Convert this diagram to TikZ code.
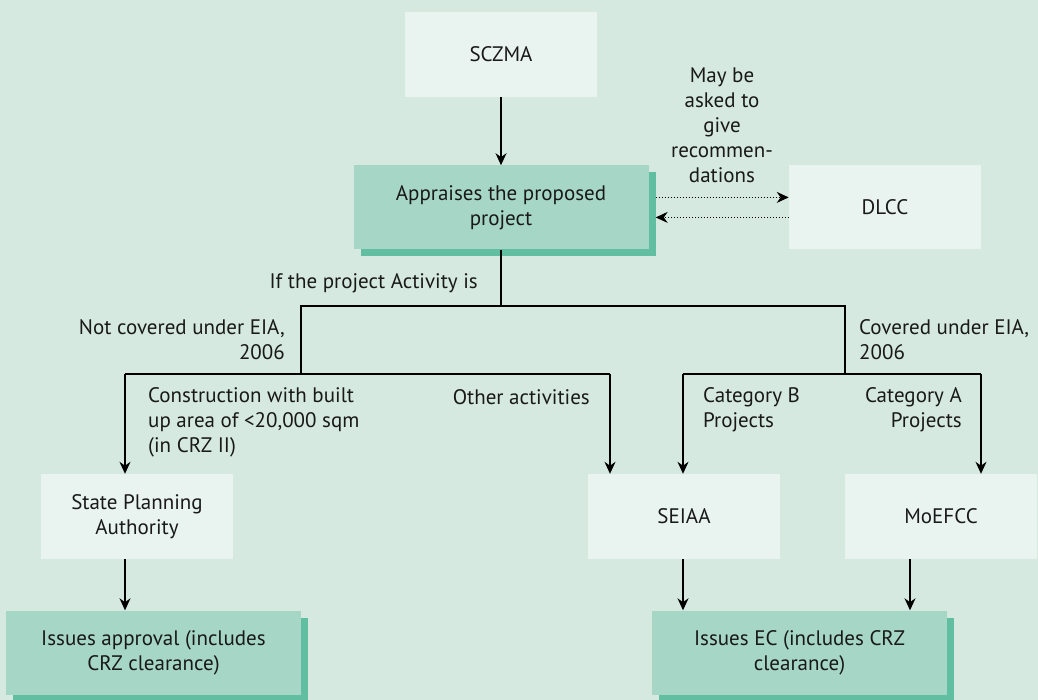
\documentclass[tikz,border=0pt]{standalone}
\usepackage{fontspec}
\setmainfont{PT Sans}
\usepackage{xcolor}
\usetikzlibrary{arrows.meta, positioning, shadows}

\definecolor{bggreen}{RGB}{213,233,224}
\definecolor{lightbox}{RGB}{233,244,240}
\definecolor{darkbox}{RGB}{166,214,197}
\definecolor{shadegreen}{RGB}{98,190,160}
\definecolor{inkgray}{RGB}{25,25,25}

\begin{document}
\begin{tikzpicture}[
                x=1pt, y=-1pt,
                font=\fontsize{21}{25}\selectfont,
                text=inkgray,
                agency/.style={fill=lightbox, minimum width=192pt, minimum height=85pt, align=center, inner sep=0pt},
                action/.style={fill=darkbox, minimum width=295pt, minimum height=84pt, align=center, inner sep=0pt,
                    drop shadow={shadow xshift=7pt, shadow yshift=-7pt, fill=shadegreen, opacity=1}},
                cond/.style={inner sep=0pt},
                flow/.style={line width=1.2pt, draw=black},
                arr/.style={flow, -{Stealth[length=12pt, width=11pt]}},
                ask/.style={dotted, line width=1pt, -{Stealth[length=12pt, width=11pt]}}
            ]
                \fill[bggreen] (0,0) rectangle (1038,700);
                \useasboundingbox (0,0) rectangle (1038,700);

                \node[agency] (sczma) at (501,54.5) {SCZMA};
                \node[action, below=68pt of sczma] (appraise) {Appraises the proposed\\project};
                \node[agency, minimum height=84pt, right=140pt of appraise] (dlcc) {DLCC};
                \node[agency] (spa) at (137,516.5) {State Planning\\Authority};
                \node[agency] (seiaa) at (684,516.5) {SEIAA};
                \node[agency] (moefcc) at (941,516.5) {MoEFCC};
                \node[action] (approval) at (153.5,652.5) {Issues approval (includes\\CRZ clearance)};
                \node[action] (ec) at (799.5,652.5) {Issues EC (includes CRZ\\clearance)};

                % dotted exchange with DLCC
                \coordinate (askout) at ([shift={(7,-10)}]appraise.east);
                \coordinate (askin) at ([shift={(7,10)}]appraise.east);
                \draw[ask] (askout) -- (dlcc.west |- askout);
                \draw[ask] (dlcc.west |- askin) -- (askin);
                \node[cond, align=center] (asklbl) at (722,125) {May be\\asked to\\give\\recommen-\\dations};

                % branch points
                \coordinate (split) at (501,306);
                \coordinate (notcov) at (301,306);
                \coordinate (cov) at (845,306);
                \coordinate (notcovb) at (301,374);
                \coordinate (covb) at (845,374);
                \coordinate (constr) at (125,374);
                \coordinate (other) at (610,374);
                \coordinate (catb) at (683,374);
                \coordinate (cata) at (981,374);
                \coordinate (moedown) at (910,374);

                \draw[arr] (sczma) -- (appraise);
                \draw[flow] (appraise.south) -- (split);
                \draw[flow] (notcovb) -- (notcov) -- (cov) -- (covb);
                \draw[flow] (constr) -- (other);
                \draw[flow] (catb) -- (cata);
                \draw[arr] (constr) -- (spa.north -| constr);
                \draw[arr] (other) -- (seiaa.north -| other);
                \draw[arr] (catb) -- (seiaa.north -| catb);
                \draw[arr] (cata) -- (moefcc.north -| cata);
                \draw[arr] (spa.south -| constr) -- (approval.north -| constr);
                \draw[arr] (seiaa.south -| catb) -- (ec.north -| catb);
                \draw[arr] (moefcc.south -| moedown) -- (ec.north -| moedown);

                \node[cond, anchor=east] (iflbl) at (478,283) {If the project Activity is};
                \node[cond, anchor=east, align=right] (notcovlbl) at (285,340) {Not covered under EIA,\\2006};
                \node[cond, anchor=west, align=left] (covlbl) at (859,340) {Covered under EIA,\\2006};
                \node[cond, anchor=west, align=left] (constrlbl) at (148,422) {Construction with built\\up area of <20,000 sqm\\(in CRZ II)};
                \node[cond, anchor=east] (otherlbl) at (590,397) {Other activities};
                \node[cond, anchor=west, align=left] (catblbl) at (703,409.5) {Category B\\Projects};
                \node[cond, anchor=east, align=right] (catalbl) at (962,409.5) {Category A\\Projects};
            \end{tikzpicture}
\end{document}
